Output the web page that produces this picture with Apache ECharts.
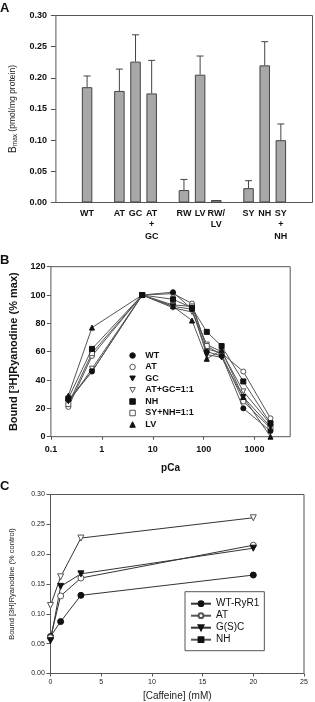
<!DOCTYPE html>
<html><head><meta charset="utf-8">
<script src="https://cdn.jsdelivr.net/npm/echarts@6/dist/echarts.min.js"></script>
<style>html,body{margin:0;padding:0;background:#fff}#c{width:315px;height:702px}</style>
</head><body><div id="c"></div>
<script>
// ---------- Panel A data ----------
const catsA = ['WT','AT','GC','AT\n+\nGC','RW','LV','RW/\nLV','SY','NH','SY\n+\nNH'];
const groupA = [0,1,1,1,2,2,2,3,3,3];
const bmax = [0.185,0.179,0.226,0.175,0.020,0.205,0.004,0.023,0.220,0.100];
const bmaxErr = [0.018,0.035,0.043,0.053,0.017,0.030,0,0.012,0.038,0.026];

// ---------- Panel B data ----------
const caB = [0.22,0.64,6.2,25,59,115,225,600,2050];
const namesB = ['WT','AT','GC','AT+GC=1:1','NH','SY+NH=1:1','LV'];
const bWT   = [26,46,100,102,90,60,57,20,4];
const bAT   = [21,57,100,101,94,62,59,46,13];
const bGC   = [25,46,100,92,90,58,56,28,7];
const bATGC = [24,48,100,91,88,65,60,32,9];
const bNH   = [27,62,100,97,91,74,64,39,9.5];
const bSYNH = [23,59,100,93,92,64,58,25,6];
const bLV   = [29,77,100,92,82,55,61,28,0];
const valuesB = [bWT,bAT,bGC,bATGC,bNH,bSYNH,bLV];

// ---------- Panel C data ----------
const caffeine = [0,1,3,20];
const namesC = ['WT-RyR1','AT','G(S)C','NH'];
const cWT = [0.062,0.087,0.131,0.165];
const cAT = [0.060,0.130,0.160,0.215];
const cGC = [0.055,0.146,0.167,0.210];
const cNH = [0.114,0.162,0.227,0.261];
const valuesC = [cWT,cAT,cGC,cNH];

// ---------- styles ----------
const FONT = '"Liberation Sans", Arial, Helvetica, sans-serif';
const DOWN = 'path://M0,0L10,0L5,9Z';
const symB = ['circle','circle',DOWN,DOWN,'rect','rect','triangle'];
const filledB = [true,false,true,false,true,false,true];
const symC = ['circle','circle',DOWN,DOWN];
const filledC = [true,false,true,false];
const FRAME = '#555';

const slotA = catsA.map((c,i)=> i + groupA[i]);

function markStyle(filled){
  return filled ? {color:'#111', borderColor:'#111', borderWidth:1}
                : {color:'#fff', borderColor:'#555', borderWidth:1};
}

const chart = echarts.init(document.getElementById('c'), null, {renderer:'canvas'});

const seriesB = namesB.map((n,i)=>({
  name:n, type:'line', xAxisIndex:1, yAxisIndex:1,
  data: caB.map((x,j)=>[x, valuesB[i][j]]),
  symbol: symB[i], symbolSize: 5,
  lineStyle:{color:'#555', width:1},
  itemStyle: markStyle(filledB[i]),
  z: 3 + (filledB[i]?1:0)
}));

const seriesC = namesC.map((n,i)=>({
  name:n, type:'line', xAxisIndex:2, yAxisIndex:2,
  data: caffeine.map((x,j)=>[x, valuesC[i][j]]),
  symbol: symC[i], symbolSize: 6,
  lineStyle:{color:'#333', width:1},
  itemStyle: markStyle(filledC[i]),
}));

const noLine = {show:false, onZero:false};

const option = {
  animation:false,
  backgroundColor:'#fff',
  textStyle:{fontFamily:FONT},
  graphic:[
    {type:'text', style:{x:0, y:8, text:'A', font:'bold 13px '+FONT, fill:'#111', verticalAlign:'middle'}},
    {type:'text', style:{x:0, y:260, text:'B', font:'bold 13px '+FONT, fill:'#111', verticalAlign:'middle'}},
    {type:'text', style:{x:0, y:486, text:'C', font:'bold 13px '+FONT, fill:'#111', verticalAlign:'middle'}}
  ],
  grid:[
    {left:49, top:15.5, width:263.5, height:187, show:true, borderColor:FRAME, borderWidth:1, backgroundColor:'transparent'},
    {left:47.3, top:266.7, width:242.9, height:170, show:true, borderColor:FRAME, borderWidth:1, backgroundColor:'transparent'},
    {left:46, top:494.5, width:258, height:180.5, show:true, borderColor:FRAME, borderWidth:1, backgroundColor:'transparent'}
  ],
  xAxis:[
    {gridIndex:0, type:'value', min:-1.93, max:13.96,
     axisLine:noLine, axisTick:{show:false}, axisLabel:{show:false}, splitLine:{show:false}},
    {gridIndex:1, type:'log', logBase:10, min:0.1, max:5000,
     axisLine:noLine, axisTick:{show:true, length:3, lineStyle:{color:FRAME}},
     axisLabel:{margin:8, fontSize:9, fontWeight:'bold', color:'#111', showMaxLabel:false,
       formatter:v=> v>4000 ? '' : String(parseFloat(Number(v).toPrecision(3)))},
     splitLine:{show:false}, minorTick:{show:false},
     name:'pCa', nameLocation:'middle', nameGap:27,
     nameTextStyle:{fontSize:10, fontWeight:'bold', color:'#111'}},
    {gridIndex:2, type:'value', min:0, max:25, interval:5,
     axisLine:noLine, axisTick:{show:true, length:3, lineStyle:{color:FRAME}},
     axisLabel:{margin:5.5, fontSize:7, color:'#222'},
     splitLine:{show:false},
     name:'[Caffeine] (mM)', nameLocation:'middle', nameGap:17.5,
     nameTextStyle:{fontSize:10, color:'#222'}}
  ],
  yAxis:[
    {gridIndex:0, type:'value', min:0, max:0.30, interval:0.05,
     axisLine:noLine, axisTick:{show:true, length:5, lineStyle:{color:FRAME}},
     axisLabel:{margin:9, fontSize:9, fontWeight:'bold', color:'#111', formatter:v=>v.toFixed(2)},
     splitLine:{show:false},
     name:'{a|B}{b|max}{c| (pmol/mg protein)}', nameLocation:'middle', nameGap:35, nameRotate:90,
     nameTextStyle:{rich:{
       a:{fontSize:10, color:'#222', fontFamily:FONT},
       b:{fontSize:6.5, color:'#222', fontFamily:FONT, verticalAlign:'bottom', padding:[4,0,0,0]},
       c:{fontSize:8.5, color:'#222', fontFamily:FONT}}}},
    {gridIndex:1, type:'value', min:0, max:120, interval:20,
     axisLine:noLine, axisTick:{show:true, length:4, lineStyle:{color:FRAME}},
     axisLabel:{margin:5.5, fontSize:9, fontWeight:'bold', color:'#111'},
     splitLine:{show:false},
     name:'{a|Bound [}{s|3}{a|H]Ryanodine (% max)}', nameLocation:'middle', nameGap:27, nameRotate:90,
     nameTextStyle:{rich:{
       a:{fontSize:11, fontWeight:'bold', color:'#111', fontFamily:FONT},
       s:{fontSize:7.5, fontWeight:'bold', color:'#111', fontFamily:FONT, verticalAlign:'top', padding:[0,0,4,0]}}}},
    {gridIndex:2, type:'value', min:0, max:0.30, interval:0.05,
     axisLine:noLine, axisTick:{show:true, length:4, lineStyle:{color:FRAME}},
     axisLabel:{margin:5.7, fontSize:7, color:'#222', formatter:v=>v.toFixed(2)},
     splitLine:{show:false},
     name:'Bound [3H]Ryanodine (% control)', nameLocation:'middle', nameGap:34.5, nameRotate:90,
     nameTextStyle:{fontSize:7.5, color:'#222'}}
  ],
  legend:[
    {orient:'vertical', left:124.3, top:346, itemWidth:5.5, itemHeight:5.5, itemGap:2.5,
     data: namesB.map((n,i)=>({name:n, icon:symB[i], itemStyle:markStyle(filledB[i])})),
     textStyle:{fontSize:9, fontWeight:'bold', color:'#111', lineHeight:9, padding:[0,0,0,5]},
     selectedMode:false},
    {orient:'vertical', left:185, top:591.7, itemWidth:20, itemHeight:6, itemGap:2,
     padding:[7,5,6,5], borderColor:'#555', borderWidth:1, backgroundColor:'#fff',
     data: namesC, textStyle:{fontSize:10, color:'#111', lineHeight:10},
     selectedMode:false}
  ],
  series:[
    {type:'bar', xAxisIndex:0, yAxisIndex:0, barWidth:10.5,
     data: bmax.map((v,i)=>[slotA[i], v]),
     itemStyle:{color:'#a8a8a8', borderColor:'#444', borderWidth:1},
     label:{show:true, position:'bottom', distance:5, fontSize:9, fontWeight:'bold', color:'#111',
       lineHeight:11.5, align:'center', formatter:p=>catsA[p.dataIndex]}},
    {type:'custom', xAxisIndex:0, yAxisIndex:0,
     data: bmax.map((v,i)=>[slotA[i], v, bmaxErr[i]]),
     renderItem:(params, api)=>{
       const x=api.value(0), y=api.value(1), e=api.value(2);
       if(!e) return null;
       const p0=api.coord([x,y]), p1=api.coord([x,y+e]);
       return {type:'group', children:[
         {type:'line', shape:{x1:p0[0],y1:p0[1],x2:p1[0],y2:p1[1]}, style:{stroke:'#444', lineWidth:1}},
         {type:'line', shape:{x1:p1[0]-3.5,y1:p1[1],x2:p1[0]+3.5,y2:p1[1]}, style:{stroke:'#444', lineWidth:1}}
       ]};
     }, z:1},
    ...seriesB,
    ...seriesC
  ]
};
chart.setOption(option);
</script>
</body></html>
